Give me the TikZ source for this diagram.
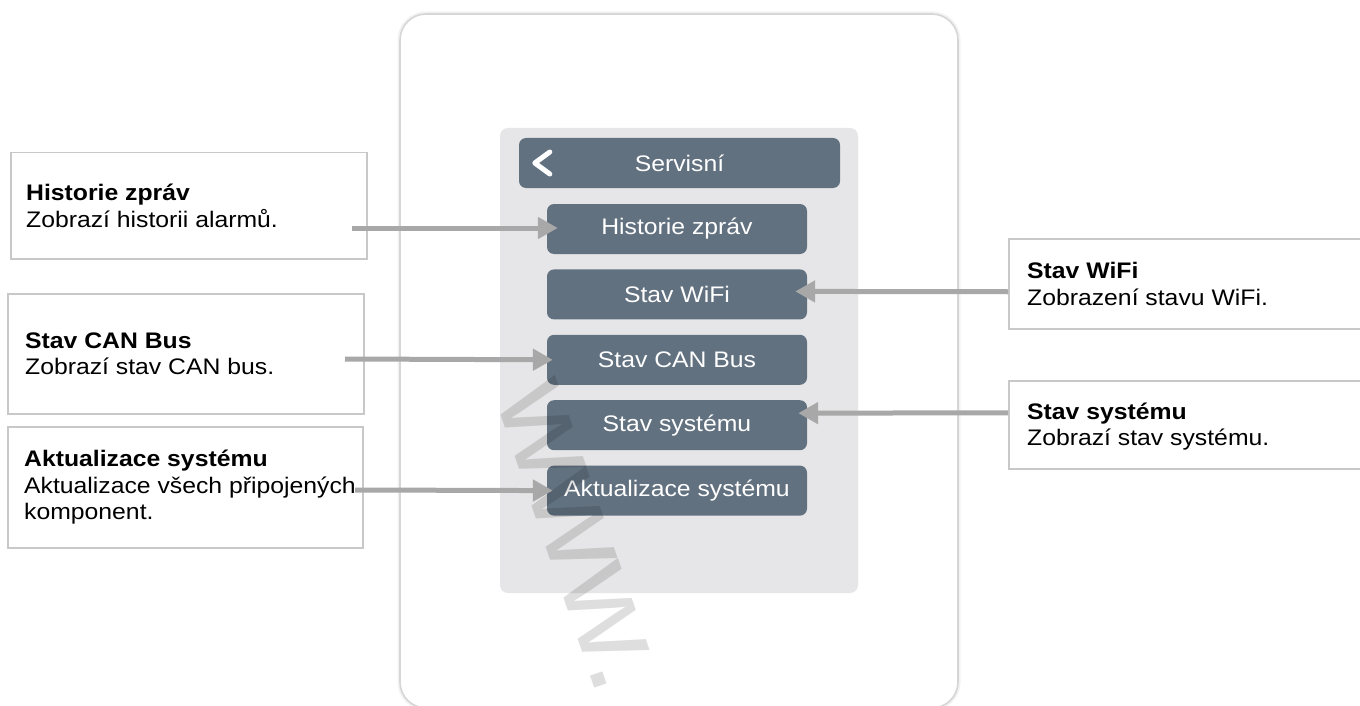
\documentclass[tikz,border=0pt]{standalone}
\usepackage{fontspec}
\setmainfont{Liberation Sans}[FakeStretch=1.1]
\usetikzlibrary{positioning,calc,arrows.meta}
\definecolor{slate}{HTML}{627180}
\definecolor{panel}{HTML}{E6E6E8}
\definecolor{frame}{HTML}{D6D6D6}
\definecolor{boxline}{HTML}{C8C8C8}
\definecolor{pointer}{HTML}{A8A8A8}
\tikzset{>={Triangle[length=20pt,width=21pt]},
  btn/.style={fill=slate,rounded corners=7pt,minimum width=260pt,minimum height=50pt,
    inner sep=0pt,text=white,font=\fontsize{22.5}{26}\selectfont},
  infobox/.style={draw=boxline,line width=1.5pt,anchor=north west,inner sep=0pt},
  infotext/.style={anchor=west,align=left,inner sep=0pt,font=\fontsize{22.5}{26.5}\selectfont},
  pointer/.style={->,draw=pointer,fill=pointer,line width=5pt},
  watermark/.style={text=black,text opacity=0.13,inner sep=0pt,font=\fontsize{122}{124}\selectfont}}

\begin{document}
\begin{tikzpicture}[x=1pt,y=-1pt]
\clip (0,0) rectangle (1360,706);
% device and screen
\draw[line width=5pt,black!5,rounded corners=26pt] (400,14) rectangle (958,708);
\draw[line width=1.6pt,frame,fill=white,rounded corners=26pt] (400,14) rectangle (958,708);
\fill[panel,rounded corners=8pt] (500,128) rectangle (858,593);
\node[btn,minimum width=321pt] (hdr) at (679.5,163) {Servisní};
\draw[white,line width=5pt,line cap=round,line join=round]
  ($(hdr.west)+(31,-11)$) -- ++(-15,11) -- ++(15,11);
\node[btn] (b1) at (677,229) {Historie zpráv};
\node[btn,below=15pt of b1] (b2) {Stav WiFi};
\node[btn,below=15pt of b2] (b3) {Stav CAN Bus};
\node[btn,below=15pt of b3] (b4) {Stav systému};
\node[btn,below=15pt of b4] (b5) {Aktualizace systému};
% left notes
\node[infobox,minimum width=356pt,minimum height=106pt] (hbox) at (10,152) {};
\node[infotext] (htext) at ($(hbox.west)+(16,0)$) {\textbf{Historie zpráv}\\Zobrazí historii alarmů.};
\node[infobox,minimum width=356pt,minimum height=120pt] (cbox) at (7,293) {};
\node[infotext] (ctext) at ($(cbox.west)+(18,0)$) {\textbf{Stav CAN Bus}\\Zobrazí stav CAN bus.};
\node[infobox,minimum width=355pt,minimum height=121pt] (abox) at (7,426) {};
\node[infotext] (atext) at ($(abox.west)+(17,0)$) {\textbf{Aktualizace systému}\\Aktualizace všech připojených\\komponent.};
% right notes
\node[infobox,minimum width=360pt,minimum height=90pt] (wbox) at (1008,238) {};
\node[infotext] (wtext) at ($(wbox.west)+(19,0)$) {\textbf{Stav WiFi}\\Zobrazení stavu WiFi.};
\node[infobox,minimum width=360pt,minimum height=88pt] (sbox) at (1008,380) {};
\node[infotext] (stext) at ($(sbox.west)+(19,2)$) {\textbf{Stav systému}\\Zobrazí stav systému.};
% pointers
\coordinate (hs) at (352,228);
\coordinate (cs) at (345,359);
\coordinate (as) at (355,490);
\draw[pointer] (hs) -- ($(b1.west)+(11,-1)$);
\draw[pointer] (cs) -- ($(b3.west)+(6,0)$);
\draw[pointer] (as) -- ($(b5.west)+(6,0)$);
\draw[pointer] ($(wbox.west)+(0,8)$) -- ($(b2.east)+(-12,-3)$);
\draw[pointer] ($(sbox.west)+(0,-12)$) -- ($(b4.east)+(-9,-12)$);
\node[watermark,anchor=base west,rotate=-71] (wm) at (494,396) {www.};
\end{tikzpicture}
\end{document}
